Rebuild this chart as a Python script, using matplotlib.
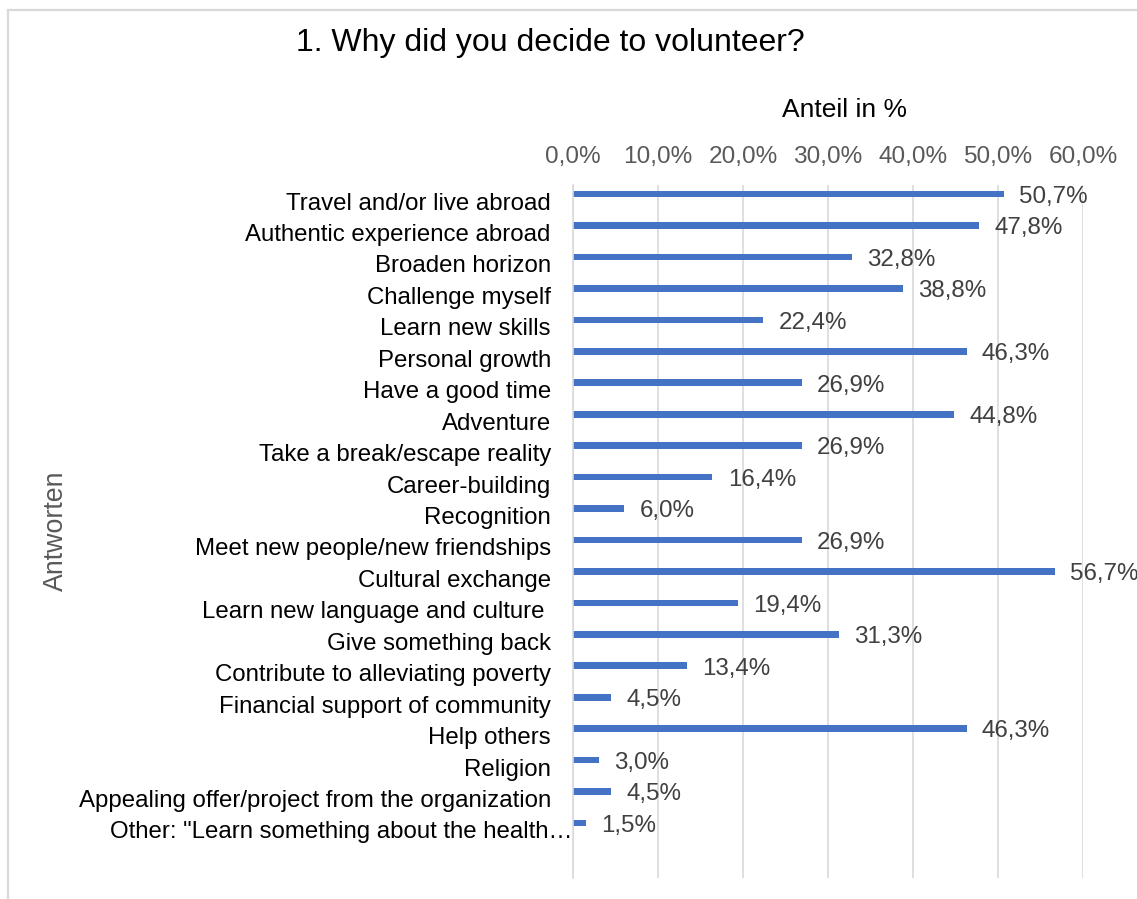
import matplotlib.pyplot as plt
from matplotlib.patches import Rectangle

plt.rcParams['font.family'] = ['Liberation Sans', 'DejaVu Sans']

answers = [
    "Travel and/or live abroad",
    "Authentic experience abroad",
    "Broaden horizon",
    "Challenge myself",
    "Learn new skills",
    "Personal growth",
    "Have a good time",
    "Adventure",
    "Take a break/escape reality",
    "Career-building",
    "Recognition",
    "Meet new people/new friendships",
    "Cultural exchange",
    "Learn new language and culture ",
    "Give something back",
    "Contribute to alleviating poverty",
    "Financial support of community",
    "Help others",
    "Religion",
    "Appealing offer/project from the organization",
    "Other: \"Learn something about the health\u2026",
]
share = [50.7, 47.8, 32.8, 38.8, 22.4, 46.3, 26.9, 44.8, 26.9, 16.4, 6.0,
         26.9, 56.7, 19.4, 31.3, 13.4, 4.5, 46.3, 3.0, 4.5, 1.5]
x_ticks = [0, 10, 20, 30, 40, 50, 60]

W, H = 1137, 899
fig = plt.figure(figsize=(W / 100, H / 100), dpi=100)

# light chart border (clipped at right/bottom)
fig.patches.append(Rectangle((7.5 / W, -0.1), 1.2, 1 - 10.5 / H + 0.1,
                             transform=fig.transFigure, fill=False,
                             edgecolor='#d9d9d9', linewidth=1.6))

ax = fig.add_axes([573 / W, 1 - 878 / H, (1083 - 573) / W, (878 - 185) / H])

pos = list(range(len(answers)))
ax.barh(pos, share, height=0.21, color='#4472c4')

for p, v in zip(pos, share):
    ax.annotate(f"{v:.1f}%".replace('.', ','), (v, p), xytext=(11, -2),
                textcoords='offset points', va='center', ha='left',
                fontsize=17.4, color='#404040', annotation_clip=False)

ax.set_xlim(0, 60)
ax.set_ylim(21.75, -0.29)
ax.set_xticks(x_ticks)
ax.set_xticklabels([f"{t:.1f}%".replace('.', ',') for t in x_ticks])
ax.xaxis.tick_top()
ax.tick_params(axis='x', length=0, pad=12, labelsize=17.6, labelcolor='#595959')
ax.set_yticks([p + 0.22 for p in pos])
ax.set_yticklabels(answers)
ax.tick_params(axis='y', length=0, pad=16, labelsize=17.3, labelcolor='black')
# the truncated last label runs up to the axis line
ax.get_yticklabels()[-1].set_x(0.043)

ax.grid(axis='x', color='#d9d9d9', linewidth=1.2)
ax.set_axisbelow(True)
for s in ['top', 'right', 'bottom']:
    ax.spines[s].set_visible(False)
ax.spines['left'].set_color('#d9d9d9')
ax.spines['left'].set_linewidth(1.2)

fig.text(550 / W, 1 - 43 / H, "1. Why did you decide to volunteer?",
         ha='center', va='center', fontsize=23, color='black')
fig.text(845 / W, 1 - 110 / H, "Anteil in %", ha='center', va='center',
         fontsize=19, color='black')
fig.text(56 / W, 1 - 531 / H, "Antworten", ha='center', va='center',
         rotation=90, fontsize=19.3, color='#595959')

fig.savefig("out.png", dpi=100, facecolor='white')
